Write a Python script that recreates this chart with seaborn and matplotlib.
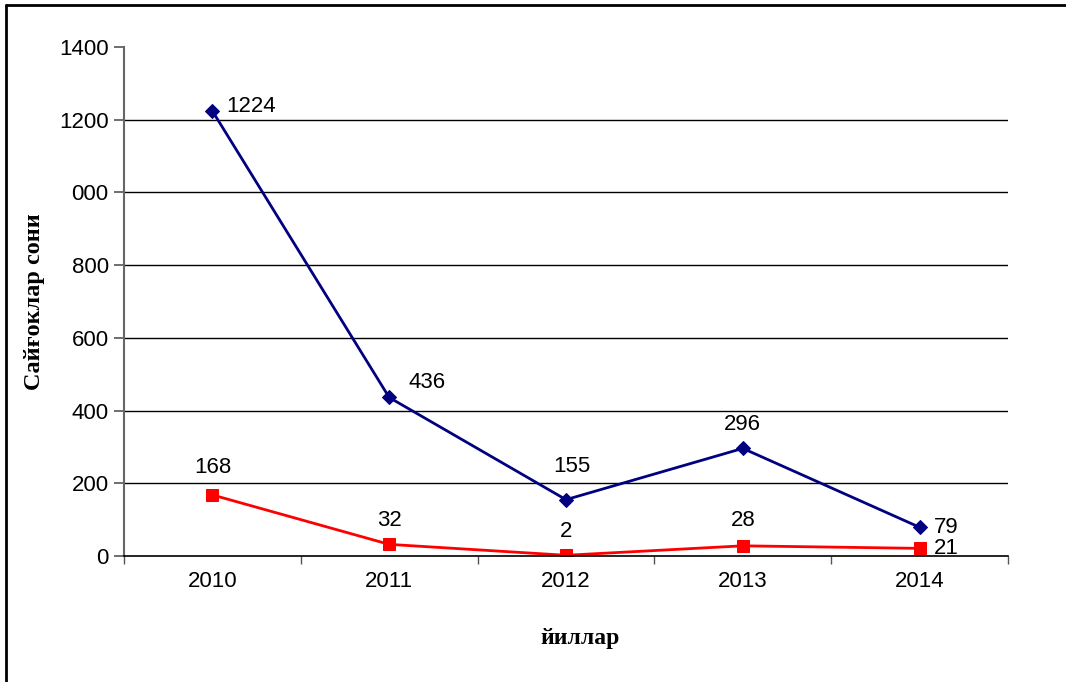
import matplotlib
matplotlib.use("Agg")
import matplotlib.pyplot as plt
from matplotlib.lines import Line2D
import seaborn as sns

# data
years = ['2010', '2011', '2012', '2013', '2014']
blue_counts = [1224, 436, 155, 296, 79]
red_counts = [168, 32, 2, 28, 21]
y_ticks = [0, 200, 400, 600, 800, 1000, 1200, 1400]
y_tick_labels = ['0', '200', '400', '600', '800', '000', '1200', '1400']

sns.set_style('white')
plt.rcParams['font.family'] = ['Liberation Sans', 'DejaVu Sans']
plt.rcParams['text.color'] = 'black'
plt.rcParams['axes.labelcolor'] = 'black'
plt.rcParams['xtick.labelcolor'] = 'black'
plt.rcParams['ytick.labelcolor'] = 'black'

W, H = 1066, 682
fig = plt.figure(figsize=(W / 100, H / 100), dpi=100)
ax = fig.add_axes([124 / W, 1 - 556 / H, (1008 - 124) / W, (556 - 47) / H])

sns.lineplot(x=years, y=blue_counts, ax=ax, color='#000080', linewidth=2,
             marker='D', markersize=7, markeredgecolor='#000080')
sns.lineplot(x=years, y=red_counts, ax=ax, color='#ff0000', linewidth=2,
             marker='s', markersize=8, markeredgecolor='#ff0000')

ax.set_xlim(-0.5, 4.5)
ax.set_ylim(0, 1400)

# horizontal grid lines (not at top)
for v in y_ticks[1:-1]:
    ax.axhline(v, color='black', linewidth=1, zorder=0)

ax.set_yticks(y_ticks)
ax.set_yticklabels(y_tick_labels, fontsize=16)
ax.set_xticks(range(len(years)))
ax.set_xticklabels(years, fontsize=16)
ax.tick_params(axis='x', length=0, pad=11)
ax.tick_params(axis='y', length=7, color='#555555', width=1.2, left=True, pad=4)
# category boundary ticks on x axis
ax.set_xticks([i - 0.5 for i in range(len(years) + 1)], minor=True)
ax.tick_params(axis='x', which='minor', length=6, color='#555555', width=1, bottom=True)

for s in ['top', 'right']:
    ax.spines[s].set_visible(False)
ax.spines['left'].set_color('#666666')
ax.spines['left'].set_linewidth(1.5)
ax.spines['bottom'].set_color('black')
ax.spines['bottom'].set_linewidth(1.2)

# value labels
blue_off = [(10, 3, 'left'), (14, 11, 'left'), (4, 24, 'center'), (0, 17, 'center'), (10, 0, 'left')]
red_off = [(0, 20, 'center'), (0, 17, 'center'), (0, 17, 'center'), (0, 18, 'center'), (10, 0, 'left')]
for i, v in enumerate(blue_counts):
    dx, dy, ha = blue_off[i]
    ax.annotate(str(v), (i, v), xytext=(dx, dy), textcoords='offset points',
                ha=ha, va='center', fontsize=16)
for i, v in enumerate(red_counts):
    dx, dy, ha = red_off[i]
    ax.annotate(str(v), (i, v), xytext=(dx, dy), textcoords='offset points',
                ha=ha, va='center', fontsize=16)

ax.set_ylabel('Сайғоклар сони', fontsize=17.5, fontweight='bold',
              family=['Liberation Serif', 'DejaVu Serif'])
ax.yaxis.set_label_coords((45 - 124) / (1008 - 124), 0.5)
ax.set_xlabel('йиллар', fontsize=17, fontweight='bold',
              family=['Liberation Serif', 'DejaVu Serif'])
ax.xaxis.set_label_coords((580 - 124) / (1008 - 124), -(628 - 556) / (556 - 47))

# page frame around the chart
fig.add_artist(Line2D([6 / W, 6 / W], [0, 1 - 5 / H], color='black', linewidth=2,
                      transform=fig.transFigure))
fig.add_artist(Line2D([6 / W, 1], [1 - 5 / H, 1 - 5 / H], color='black', linewidth=2,
                      transform=fig.transFigure))

fig.savefig('out.png', dpi=100)
